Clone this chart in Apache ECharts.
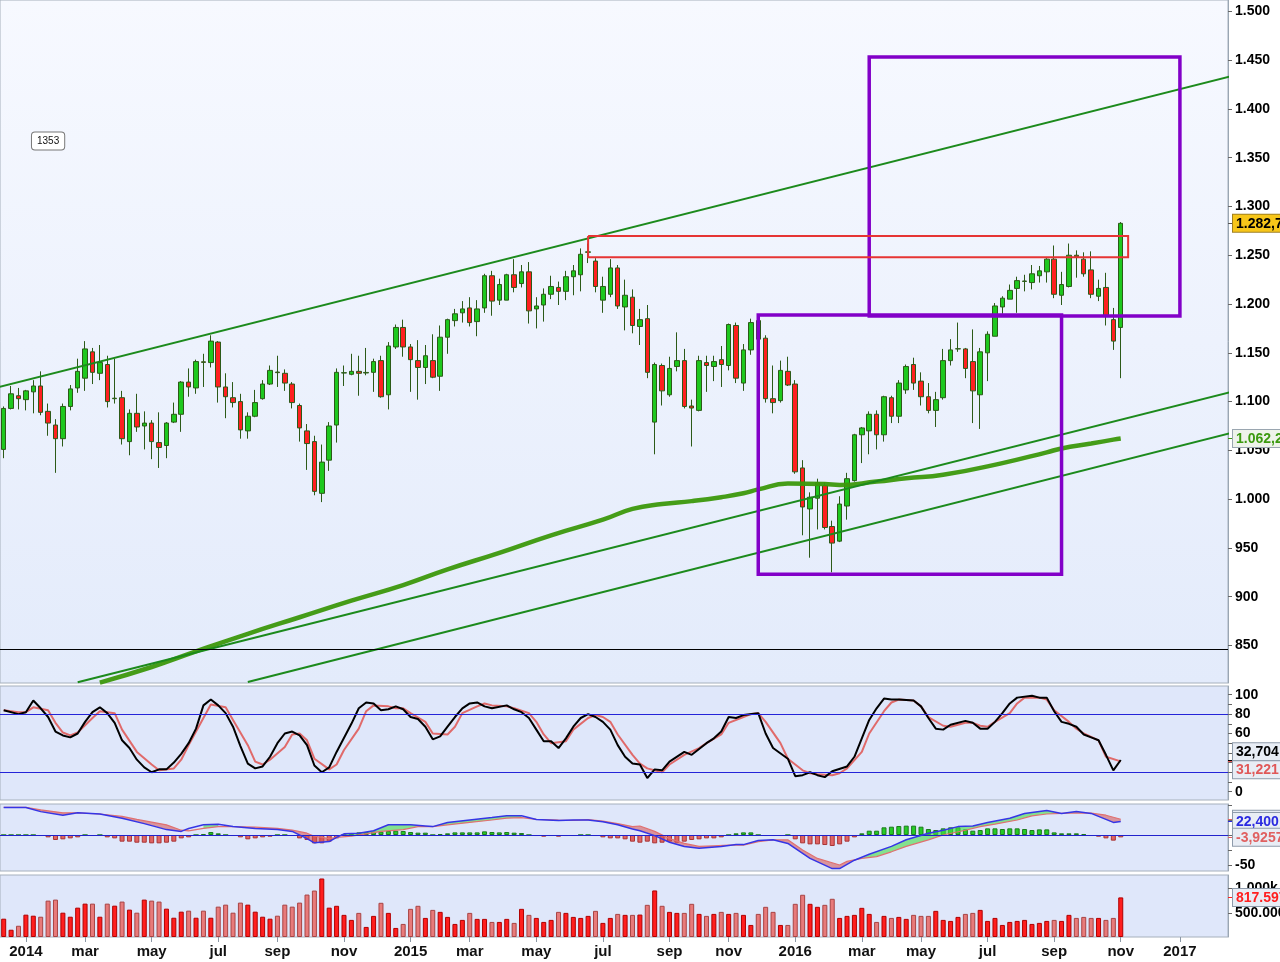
<!DOCTYPE html>
<html><head><meta charset="utf-8">
<script src="https://cdn.jsdelivr.net/npm/echarts@6/dist/echarts.min.js"></script>
<style>html,body{margin:0;padding:0;background:#fff}#c{width:1280px;height:962px}</style>
</head><body><div id="c"></div>
<script>
// ---------- DATA ----------
const firstWeek = '2013-12-16';      // Monday of first weekly bar
const weekCount = 166;               // weeks covered by the time axis (incl. empty future)
const monthNames = ['jan','feb','mar','apr','may','jun','jul','aug','sep','oct','nov','dec'];

const open = [1051,1093,1106,1102,1110,1116,1090,1076,1062,1095,
1114,1124,1151,1129,1138,1103,1104,1059,1088,1075,
1078,1058,1055,1079,1087,1120,1114,1140.8,1140,1161,
1115,1104,1100,1070,1085,1103,1118,1130.3,1129,1118,
1096,1070,1059,1006,1040,1076,1129.3,1128,1131,1129.3,
1130,1142,1107,1156,1176,1156,1142,1135,1142,1126,
1166,1183,1191,1196,1182,1196,1229,1204,1204,1230,
1221,1233,1195,1199,1210,1217,1213,1228,1230,1253,
1244,1204,1210,1237,1197,1207,1177,1185,1079,1137,
1107,1136,1142,1095.5,1091,1140,1136,1143,1137,1178,
1119,1153,1183,1165,1103,1101,1131,1118,1032,990,
1001,1014,972,957,993,1019,1066,1070,1087,1066,
1104,1085,1112,1138,1121,1105,1091,1104,1142,1154,
1154,1141,1107,1150,1167,1197,1205,1216,1223.2,1222,
1229,1233,1246,1209,1218,1250,1246,1235,1208,1217,
1184,1176];
const close = [1093,1108,1103,1111,1116,1089,1078,1062,1095,1113,
1131,1154,1130,1140,1100,1103.5,1062,1088,1074,1078,
1059,1053,1078,1087,1120,1115,1141,1140.2,1162,1115,
1105,1099,1071,1085,1099,1118,1132,1129.7,1119,1099,
1073,1057,1008,1038,1075,1130,1129.6,1131,1129,1129.9,
1141,1105,1157,1176,1156,1143,1135,1147,1125,1166,
1184,1190,1195,1181,1195,1229,1203,1220,1230,1217,
1233,1193,1198,1210,1218,1213,1228,1234,1251,1253.5,
1218,1218,1237,1198,1209,1178,1184,1130,1138,1111,
1134,1142,1095,1093.4,1142,1137,1141,1138,1179,1124,
1153,1181,1164,1103,1099,1132,1117,1028,992,1002,
1017,971,955,995,1021,1066,1073,1087,1066,1105,
1085,1119,1136,1119,1105,1091,1102,1142,1153,1154.2,
1134,1111,1151,1169,1198,1206,1214,1224,1223.6,1231,
1234,1246,1210,1220,1250,1248.5,1231,1210,1216,1188,
1162,1282.7];
const low = [1042,1092,1092,1091,1088,1086,1065,1027,1054,1091,
1109,1111,1118,1122,1094,1098,1056,1045,1069,1051,
1041,1032,1042,1078,1069,1105,1108,1115,1135,1099,
1083,1094,1062,1062,1084,1102,1117,1115,1111,1093,
1059,1030,1004,997,1029,1058,1116,1127,1106,1127,
1110,1104,1092,1154,1146,1110,1102,1118,1124,1111,
1149,1177,1181,1177,1167,1191,1188,1199,1204,1212,
1217,1180,1175,1182,1205,1199,1204,1209,1213,1242,
1212,1191,1207,1195,1173,1170,1158,1124,1046,1096,
1105,1131,1093,1054,1090,1110,1121,1115,1132,1119,
1111,1148,1163,1099,1088,1099,1116,1026,963,940,
969,969,925,956,979,1018,1037,1046,1051,1059,
1078,1078,1108,1112,1096,1088,1074,1102,1137,1151,
1124,1078,1072,1121,1167,1190,1205,1191,1213,1215,
1222,1222,1206,1199,1217,1227,1228,1206,1203,1178,
1153,1124];
const high = [1095,1116,1114,1112,1122,1131,1098,1082,1098,1117,
1144,1162,1155,1158,1147,1144,1111,1092,1108,1090,
1081,1089,1079,1099,1121,1134,1143,1149,1168,1162,
1129,1120,1108,1089,1112,1122,1137,1147,1133,1120,
1098,1077,1065,1056,1079,1134,1137,1149,1147,1155,
1144,1147,1161,1179,1184,1159,1163,1158,1169,1178,
1185,1195,1203,1207,1204,1231,1234,1226,1231,1246,
1240,1243,1207,1216,1229,1223,1234,1240,1257,1262,
1247,1228,1246,1240,1225,1215,1195,1199,1140,1139,
1146,1171,1154,1102,1147,1147,1147,1157,1180,1181,
1159,1185,1185,1168,1137,1142,1146,1122,1040,1007,
1021,1017,978,1003,1027,1067,1074,1090,1091,1106,
1106,1122,1138,1145,1130,1119,1110,1154,1164,1181,
1155,1174,1155,1172,1201,1208,1220,1228,1230,1240,
1239,1247,1260,1233,1262,1255,1253,1254,1225,1232,
1196,1284];
// volume in thousands
const volumeK = [378,150,232,461,440,419,751,772,502,419,
606,689,689,419,689,647,731,565,502,772,
751,731,585,398,523,544,398,544,398,627,
668,502,710,668,523,419,378,440,668,627,
710,876,959,1208,606,644,457,353,498,208,
436,706,498,187,270,581,644,394,560,519,
415,270,353,498,374,374,311,311,374,291,
581,457,394,311,353,519,498,415,394,436,
540,291,394,477,457,457,463,664,961,644,
519,498,498,685,477,436,477,519,477,498,
457,249,477,623,519,249,249,685,872,685,
623,664,789,394,436,457,602,477,311,436,
394,415,374,457,436,436,540,353,332,415,
477,498,560,332,394,249,311,332,353,270,
291,332,353,332,457,394,415,394,394,353,
394,817.597];
// moving average readings: [week index, value]
const maLine = [[13,812],[20,828],[26,844],[33,862],[40,879],[47,896],[54,912],[60,928],[67,945],[74,963],[81,979],
[85,990],[89,995],[93,998],[97,1002],[100,1006],[102,1010],[106,1016],[111,1015.5],[113,1014.5],[118,1018],
[122,1021.4],[127,1025],[135,1037],[141,1048],[143,1052],[147,1057],[150,1061],[151,1062.2]];
// trend lines: [date, price] pairs
const trendUpper = [['2013-12-09',1114.2],['2017-04-10',1447.0]];
const trendMid   = [['2014-02-24',812.4],['2017-04-10',1123.4]];
const trendLow   = [['2014-08-04',812.6],['2017-04-10',1081.4]];
const supportLevel = 846.4;
// rectangles: [fromDate, topPrice, toDate, bottomPrice]
const boxLow   = ['2015-11-30',1188.7,'2016-09-12',923];
const boxHigh  = ['2016-03-14',1453.2,'2017-01-02',1187.7];
const boxRange = ['2015-06-22',1269.7,'2016-11-14',1247.9];
const noteText = '1353';
const notePos = ['2014-01-27',1367];
// stochastic readings [week index, value]
const stochK = [[0,84],[2,80],[3,82],[4,94],[5,86],[6,77],[7,62],[8,58],[9,56],[10,60],[11,72],[12,82],[13,87],[14,81],[15,71],[16,53],[17,45],[18,33],[19,25],[20,20],[21,23],[22,23],[23,30],[24,39],[25,50],[26,65],[27,89],[28,95],[29,89],[30,81],[31,67],[32,47],[33,29],[34,24],[35,26],[36,36],[37,50],[38,60],[39,62],[40,58],[41,48],[42,27],[43,20],[44,25],[45,41],[47,70],[48,86],[49,92],[50,91],[51,84],[52,85],[53,88],[54,85],[55,77],[56,75],[57,67],[58,54],[59,57],[60,67],[61,77],[62,86],[63,91],[64,92],[65,88],[66,86],[68,89],[69,85],[70,82],[71,76],[72,64],[73,52],[74,52],[75,45],[76,55],[77,67],[78,76],[79,80],[80,77],[81,72],[82,64],[83,48],[84,36],[85,29],[86,28],[87,14],[88,23],[89,22],[90,31],[92,41],[93,38],[95,50],[96,55],[97,62],[98,77],[99,76],[100,79],[102,81],[103,60],[104,45],[106,34],[107,16],[108,17],[109,20],[110,17],[111,15],[112,21],[114,26],[115,36],[116,55],[117,74],[118,86],[119,96],[120,95],[121,95],[123,94],[124,88],[125,76],[126,65],[127,64],[128,69],[130,73],[131,71],[132,65],[133,65],[134,72],[135,81],[136,91],[137,97],[139,99],[140,97],[141,97],[142,83],[143,72],[144,70],[145,67],[146,59],[147,56],[148,53],[149,38],[150,22],[151,32.704]];
const stochD = [[0,84],[2,82],[3,82],[4,87],[6,84],[7,71],[8,61],[9,58],[10,61],[12,76],[13,83],[15,81],[16,64],[18,41],[20,28],[21,22],[23,24],[24,33],[25,48],[27,76],[28,90],[30,87],[31,74],[33,48],[34,31],[35,28],[36,33],[38,46],[39,59],[40,60],[41,53],[42,34],[44,23],[45,28],[46,43],[48,65],[49,83],[50,89],[52,88],[53,86],[54,86],[55,81],[57,72],[58,60],[60,59],[61,67],[62,81],[64,88],[65,91],[66,89],[68,88],[69,86],[71,81],[72,72],[73,59],[74,50],[76,52],[77,64],[79,76],[80,79],[81,77],[82,72],[83,59],[85,38],[86,29],[87,24],[89,20],[90,28],[92,38],[94,45],[95,50],[97,59],[98,71],[100,77],[101,80],[102,81],[103,72],[105,50],[106,34],[108,22],[109,19],[110,18],[112,17],[113,19],[114,24],[116,41],[117,60],[119,83],[120,92],[121,95],[123,94],[124,88],[125,77],[127,68],[128,67],[130,71],[131,71],[132,68],[133,67],[134,72],[136,81],[137,91],[138,97],[140,97],[141,95],[142,84],[144,72],[145,65],[146,60],[148,53],[149,36],[151,31.221]];
const stochLevels = [80, 20];
// MACD readings [week index, value]
const macdLine = [[0,46],[3,46],[5,39],[8,33],[10,37],[13,35],[16,28],[19,19],[22,9],[24,6],[25,11],[27,17],[29,18],[31,14],[34,11],[37,9],[39,6],[41,-6],[42,-13],[44,-11],[45,-4],[46,2],[48,3],[50,7],[52,17],[55,17],[57,15],[58,14],[60,21],[63,25],[66,29],[68,32],[70,32],[72,26],[75,24],[77,25],[79,25],[81,22],[83,17],[85,10],[86,7],[88,-1],[90,-12],[92,-19],[94,-22],[97,-19],[99,-16],[100,-16],[102,-9],[104,-8],[106,-14],[109,-39],[112,-56],[113,-56],[115,-42],[117,-32],[120,-19],[122,-8],[125,3],[127,8],[129,14],[131,15],[133,21],[136,28],[138,36],[141,41],[143,36],[145,39],[147,36],[148,31],[150,21],[151,22.4]];
const signalLine = [[0,46],[3,46],[5,42],[8,37],[10,37],[13,35],[16,31],[18,26],[22,17],[24,8],[25,7],[27,11],[29,14],[31,14],[34,13],[37,11],[39,8],[41,3],[42,-2],[44,-6],[45,-4],[47,-2],[49,2],[51,6],[54,9],[56,14],[58,14],[60,17],[63,21],[66,25],[68,28],[70,29],[72,26],[75,25],[77,24.5],[79,25.5],[81,23],[83,19],[85,14],[86,15],[88,6],[90,-6],[92,-14],[94,-19],[96,-18],[98,-17],[100,-17],[102,-11],[104,-8],[106,-8],[108,-25],[110,-39],[113,-50],[114,-44],[116,-39],[118,-36],[120,-28],[122,-19],[125,-8],[127,0],[130,8],[132,14],[134,18],[137,25],[139,32],[141,35],[143,36],[145,37],[147,36.5],[149,33],[151,26.3]];
// sign of MACD-signal over ranges of weeks [from, to, sign]
const macdRegions = [[0,26,-1],[26,30,1],[30,46,-1],[46,71,1],[71,99,-1],[99,102,1],[102,116,-1],[116,147,1],[147,151,-1]];
const macdHist = [0,0,0,0,0,-1.7,-3.9,-8.3,-7.2,-5.6,
-3.9,0,-1.7,0,-3.9,-5.6,-11.1,-11.1,-12.8,-12.8,
-13.9,-13.9,-12.8,-11.1,-5.6,-3.9,0,1.7,5,2.8,
0,-1.7,-3.9,-7.2,-5.6,-3.9,-2.8,0,0,-1.7,
-5.6,-8.3,-13.9,-13.9,-11.1,-5.6,0,2.8,4.4,5,
5.6,5.6,6.7,7.2,6.7,5,3.9,3.9,0,1.7,
2.8,4.4,4.4,4.4,4.4,6.1,5,4.4,5,3.9,
3.3,0,-1.7,-2.8,-1.7,-2.8,-1.7,-1.7,0,0,
-1.7,-3.9,-5.6,-5.6,-7.2,-11.1,-12.8,-11.1,-13.9,-12.8,
-11.1,-12.8,-11.1,-8.3,-7.2,-5.6,-5.6,-3.9,0,2.8,
4.4,4.4,0,-1.7,-1.7,-1.7,0,-7.2,-13.9,-15.6,
-15.6,-16.7,-18.3,-15.6,-11.1,-3.9,2.8,7.2,7.2,12.8,
13.9,15,15.6,15.6,13.9,10,8.3,11.1,12.8,12.8,
9.4,7.2,8.3,11.1,11.1,10,11.1,11.1,10,8.3,
9.4,9.4,4.4,2.8,2.8,2.8,1.7,-1.7,-2.8,-5.6,
-9.4,-3.9257];
// axis tick values
const priceTicks = [850,900,950,1000,1050,1100,1150,1200,1250,1300,1350,1400,1450,1500];
const stochLabels = [0,20,40,60,80,100];
const stochTicks = [0,10,20,30,40,50,60,70,80,90,100];
const macdLabels = [-50];
const macdTicks = [-50,-25,0,25,50];
const volLabels = [500000,1000000];
const volLabelText = ['500.000','1.000k'];
// last-value tags (panel index, value, text)
const priceTags = [{value:1282.7, text:'1.282,7', kind:'close'},{value:1062.2, text:'1.062,2', kind:'ma'}];
const stochTags = [{value:32.704, text:'32,704', kind:'k'},{value:31.221, text:'31,221', kind:'d'}];
const macdTags  = [{value:26.326, text:'26,326', kind:'sig'},{value:22.4, text:'22,400', kind:'macd'},{value:-3.9257, text:'-3,9257', kind:'hist'}];
const volTags   = [{value:817597, text:'817.597', kind:'vol'}];

// ---------- HELPERS ----------
const DAY = 86400000;
const t0 = Date.parse(firstWeek + 'T00:00:00Z');
const categories = [];
for (let i = 0; i < weekCount; i++) categories.push(new Date(t0 + i * 7 * DAY).toISOString().slice(0, 10));
const weekIndex = d => Math.round((Date.parse(d + 'T00:00:00Z') - t0) / (7 * DAY));
const isTickDate = v => { const m = +v.slice(5, 7), d = +v.slice(8, 10); return m % 2 === 1 && d <= 7; };
const fmtDate = v => { const m = +v.slice(5, 7); return m === 1 ? v.slice(0, 4) : monthNames[m - 1]; };
const fmtPrice = v => v >= 1000 ? Math.floor(v / 1000) + '.' + String(Math.round(v % 1000)).padStart(3, '0') : String(v);
const FONT = '"Liberation Sans", Arial, sans-serif';

const G = [
  {top: 0, height: 683, min: 811.6, max: 1511.6},
  {top: 686, height: 114, min: -8.6, max: 109},
  {top: 804, height: 67, min: -60, max: 51.7},
  {top: 875, height: 62, min: 0, max: 1280000}
];
const tagStyles = {
  close: {color: '#000', backgroundColor: '#f7c61a', borderColor: '#a08020', tick: '#555'},
  ma:    {color: '#3c9a10', backgroundColor: '#eef3ea', borderColor: '#9aa6b0', tick: '#3c9a10'},
  k:     {color: '#000', backgroundColor: '#e8edf5', borderColor: '#8e9bab', tick: '#000'},
  d:     {color: '#e05858', backgroundColor: '#e8edf5', borderColor: '#8e9bab', tick: '#e05858'},
  sig:   {color: '#e06060', backgroundColor: '#e8edf5', borderColor: '#8e9bab', tick: '#e06060'},
  macd:  {color: '#2a2ae0', backgroundColor: '#e8edf5', borderColor: '#8e9bab', tick: '#2a2ae0'},
  hist:  {color: '#e06060', backgroundColor: '#e8edf5', borderColor: '#8e9bab', tick: '#e06060'},
  vol:   {color: '#ff2020', backgroundColor: '#e8edf5', borderColor: '#8e9bab', tick: '#ff2020'}
};
// spread overlapping tags apart (pixel gap converted to value units of the panel)
function spreadTags(tags, g, gapPx) {
  const gap = gapPx * (g.max - g.min) / g.height;
  const pos = tags.map(t => t.value);
  for (let it = 0; it < 30; it++) for (let i = 0; i < pos.length - 1; i++) {
    if (pos[i] - pos[i + 1] < gap) { const m = (pos[i] + pos[i + 1]) / 2; pos[i] = m + gap / 2; pos[i + 1] = m - gap / 2; }
  }
  return pos;
}
// one hidden value axis per tag, so every tag label sits on the right axis at its own value
function tagAxes(gi, tags, positions) {
  return tags.map((t, i) => {
    const st = tagStyles[t.kind];
    return {
      type: 'value', gridIndex: gi, position: 'right', min: G[gi].min, max: G[gi].max,
      axisLine: {show: false}, splitLine: {show: false},
      axisTick: {show: true, customValues: [t.value], length: 5, lineStyle: {color: st.tick}},
      axisLabel: {
        show: true, hideOverlap: false, customValues: [positions[i]], margin: 5,
        formatter: () => '{t|' + t.text + '}',
        rich: {t: {fontFamily: FONT, fontWeight: 'bold', fontSize: 14, padding: [2, 3, 1, 3], borderWidth: 1, lineHeight: 15,
          color: st.color, backgroundColor: st.backgroundColor, borderColor: st.borderColor}}
      }
    };
  });
}
function box(b) {
  return [[b[0], b[1]], [b[2], b[1]], [b[2], b[3]], [b[0], b[3]], [b[0], b[1]]];
}
const trendData = t => t.map(p => [weekIndex(p[0]), p[1]]);

const gridBase = {left: 0, width: 1228, show: true, borderColor: '#a6b0bc', borderWidth: 1, outerBoundsMode: 'none', containLabel: false};
const grids = G.map((g, i) => Object.assign({}, gridBase, {top: g.top, height: g.height,
  backgroundColor: i === 0 ? {type: 'linear', x: 0, y: 0, x2: 0, y2: 1, colorStops: [{offset: 0, color: '#f7f9ff'}, {offset: 1, color: '#e3ebfb'}]} : '#dfe7fa'}));

const tickFilter = (idx, v) => isTickDate(v);
const xAxes = G.map((g, i) => ({
  type: 'category', gridIndex: i, data: categories, boundaryGap: true,
  axisLine: {show: false}, splitLine: {show: false},
  axisTick: {show: i === 3, interval: tickFilter, alignWithLabel: true, length: 5, lineStyle: {color: '#8c98a6'}},
  axisLabel: {show: i === 3, interval: tickFilter, formatter: fmtDate, fontFamily: FONT, fontWeight: 'bold', fontSize: 15, color: '#111', margin: 7}
}));

const labelStyle = {fontFamily: FONT, fontWeight: 'bold', fontSize: 14, color: '#000', margin: 7, hideOverlap: false};
const axisLineStyle = {show: true, lineStyle: {color: '#9aa6b3'}};
const tickStyle = {length: 4, lineStyle: {color: '#666'}};
const yAxes = [
  {type: 'value', gridIndex: 0, position: 'right', min: G[0].min, max: G[0].max, axisLine: axisLineStyle, splitLine: {show: false},
   axisTick: Object.assign({show: true, customValues: priceTicks}, tickStyle),
   axisLabel: Object.assign({customValues: priceTicks, formatter: fmtPrice}, labelStyle)},
  {type: 'value', gridIndex: 1, position: 'right', min: G[1].min, max: G[1].max, axisLine: axisLineStyle, splitLine: {show: false},
   axisTick: Object.assign({show: true, customValues: stochTicks}, tickStyle),
   axisLabel: Object.assign({customValues: stochLabels}, labelStyle)},
  {type: 'value', gridIndex: 2, position: 'right', min: G[2].min, max: G[2].max, axisLine: axisLineStyle, splitLine: {show: false},
   axisTick: Object.assign({show: true, customValues: macdTicks}, tickStyle),
   axisLabel: Object.assign({customValues: macdLabels}, labelStyle)},
  {type: 'value', gridIndex: 3, position: 'right', min: G[3].min, max: G[3].max, axisLine: axisLineStyle, splitLine: {show: false},
   axisTick: Object.assign({show: true, customValues: volLabels}, tickStyle),
   axisLabel: Object.assign({customValues: volLabels, formatter: v => volLabelText[volLabels.indexOf(v)] || ''}, labelStyle)},
  ...tagAxes(0, priceTags, priceTags.map(t => t.value)),
  ...tagAxes(1, stochTags, spreadTags(stochTags, G[1], 18)),
  ...tagAxes(2, macdTags, macdTags.map(t => t.value)),
  ...tagAxes(3, volTags, volTags.map(t => t.value))
];

const candleData = open.map((o, i) => [o, close[i], low[i], high[i]]);
const upColor = '#1ec81e', downColor = '#ff2020', candleBorder = '#2c5a18';
const isUp = i => close[i] >= open[i];

const series = [
  {type: 'candlestick', xAxisIndex: 0, yAxisIndex: 0, data: candleData, barWidth: 5, z: 3,
   itemStyle: {color: upColor, color0: downColor, borderColor: candleBorder, borderColor0: candleBorder, borderWidth: 1},
   markLine: {silent: true, symbol: 'none', animation: false, label: {show: false},
     lineStyle: {color: '#000', width: 1, type: 'solid'}, data: [{yAxis: supportLevel}]},
   markPoint: {silent: true, symbol: 'rect', symbolSize: 1, itemStyle: {color: 'rgba(0,0,0,0)'}, animation: false,
     label: {show: true, position: 'inside', formatter: noteText, backgroundColor: '#fff', borderColor: '#777', borderWidth: 1, borderRadius: 3,
       padding: [4, 5, 3, 5], fontFamily: FONT, fontSize: 10, color: '#111'},
     data: [{coord: notePos}]}
  },
  {type: 'line', xAxisIndex: 0, yAxisIndex: 0, data: maLine, smooth: true, showSymbol: false, symbol: 'none', z: 4,
   lineStyle: {color: '#3c980c', width: 4.5, opacity: 0.95}},
  ...[trendUpper, trendMid, trendLow].map(t => ({type: 'line', xAxisIndex: 0, yAxisIndex: 0, data: trendData(t), symbol: 'none', clip: true, z: 4,
   lineStyle: {color: '#1c8a1c', width: 2}})),
  ...[boxLow, boxHigh].map(b => ({type: 'line', xAxisIndex: 0, yAxisIndex: 0, data: box(b), symbol: 'none', z: 6,
   lineStyle: {color: '#8200c8', width: 3.5, join: 'miter', cap: 'square'}})),
  {type: 'line', xAxisIndex: 0, yAxisIndex: 0, data: box(boxRange), symbol: 'none', z: 6,
   lineStyle: {color: '#e63434', width: 2, join: 'miter'}},
  // stochastic
  {type: 'line', xAxisIndex: 1, yAxisIndex: 1, data: stochD, symbol: 'none', z: 3, lineStyle: {color: '#e06a6a', width: 2}},
  {type: 'line', xAxisIndex: 1, yAxisIndex: 1, data: stochK, symbol: 'none', z: 4, lineStyle: {color: '#000', width: 2},
   markLine: {silent: true, symbol: 'none', animation: false, label: {show: false}, lineStyle: {color: '#2424d8', width: 1, type: 'solid'},
     data: stochLevels.map(v => ({yAxis: v}))}},
  // MACD
  {type: 'bar', xAxisIndex: 2, yAxisIndex: 2, barWidth: 5, z: 2,
   data: macdHist.map(v => ({value: v, itemStyle: {color: v >= 0 ? '#25cc25' : '#e06464', borderColor: v >= 0 ? '#1d7a1d' : '#a83434', borderWidth: 1}})),
   markLine: {silent: true, symbol: 'none', animation: false, label: {show: false}, lineStyle: {color: '#2222cc', width: 1, type: 'solid'}, data: [{yAxis: 0}]}},
  {type: 'custom', xAxisIndex: 2, yAxisIndex: 2, data: macdRegions, encode: {x: 0, y: 2}, clip: true, silent: true, z: 3,
   renderItem: (params, api) => {
     const a = api.value(0), b = api.value(1), s = api.value(2);
     const top = macdLine.filter(p => p[0] >= a && p[0] <= b).map(p => api.coord(p));
     const bot = signalLine.filter(p => p[0] >= a && p[0] <= b).map(p => api.coord(p)).reverse();
     return {type: 'polygon', shape: {points: top.concat(bot)}, style: {fill: s > 0 ? 'rgba(70,222,70,0.6)' : 'rgba(212,80,80,0.55)'}};
   }},
  {type: 'line', xAxisIndex: 2, yAxisIndex: 2, data: signalLine, symbol: 'none', z: 4, lineStyle: {color: '#e07070', width: 1.2}},
  {type: 'line', xAxisIndex: 2, yAxisIndex: 2, data: macdLine, symbol: 'none', z: 5, lineStyle: {color: '#3535e6', width: 1.5}},
  // volume
  {type: 'bar', xAxisIndex: 3, yAxisIndex: 3, barWidth: 5, z: 2,
   data: volumeK.map((v, i) => ({value: v * 1000, itemStyle: {
     color: isUp(i) ? '#ff1e1e' : '#e87a7a', borderColor: isUp(i) ? '#b00000' : '#a84444', borderWidth: 1}}))}
];

const chart = echarts.init(document.getElementById('c'), null, {renderer: 'canvas', width: 1280, height: 962});
chart.setOption({
  animation: false,
  backgroundColor: '#ffffff',
  textStyle: {fontFamily: FONT},
  grid: grids, xAxis: xAxes, yAxis: yAxes, series
});
</script></body></html>
